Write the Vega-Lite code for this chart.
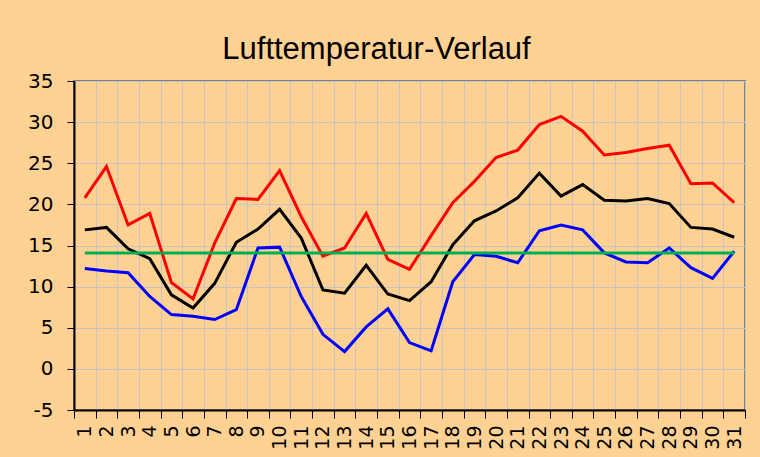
{
  "$schema": "https://vega.github.io/schema/vega-lite/v6.json",
  "autosize": {"type": "none"},
  "width": 671,
  "height": 329,
  "padding": {"left": 74, "top": 81, "right": 15, "bottom": 47},
  "background": "#FFD294",
  "title": {
    "text": "Lufttemperatur-Verlauf",
    "font": "Liberation Sans",
    "fontSize": 31,
    "fontWeight": "normal",
    "color": "#000000",
    "anchor": "middle",
    "dx": -33,
    "dy": 41,
    "baseline": "alphabetic",
    "offset": 22
  },
  "config": {
    "view": {"stroke": "#808080", "strokeWidth": 2, "fill": "#FFD294"},
    "axis": {"labelFont": "DejaVu Sans", "titleFont": "DejaVu Sans"}
  },
  "data": {
    "values": [
      {"day": 1, "series": "Max", "temp": 20.8},
      {"day": 2, "series": "Max", "temp": 24.6},
      {"day": 3, "series": "Max", "temp": 17.5},
      {"day": 4, "series": "Max", "temp": 18.9},
      {"day": 5, "series": "Max", "temp": 10.5},
      {"day": 6, "series": "Max", "temp": 8.5},
      {"day": 7, "series": "Max", "temp": 15.3},
      {"day": 8, "series": "Max", "temp": 20.7},
      {"day": 9, "series": "Max", "temp": 20.6},
      {"day": 10, "series": "Max", "temp": 24.1},
      {"day": 11, "series": "Max", "temp": 18.5},
      {"day": 12, "series": "Max", "temp": 13.7},
      {"day": 13, "series": "Max", "temp": 14.7},
      {"day": 14, "series": "Max", "temp": 18.9},
      {"day": 15, "series": "Max", "temp": 13.3},
      {"day": 16, "series": "Max", "temp": 12.1},
      {"day": 17, "series": "Max", "temp": 16.2},
      {"day": 18, "series": "Max", "temp": 20.2},
      {"day": 19, "series": "Max", "temp": 22.8},
      {"day": 20, "series": "Max", "temp": 25.7},
      {"day": 21, "series": "Max", "temp": 26.6},
      {"day": 22, "series": "Max", "temp": 29.7},
      {"day": 23, "series": "Max", "temp": 30.7},
      {"day": 24, "series": "Max", "temp": 28.9},
      {"day": 25, "series": "Max", "temp": 26.0},
      {"day": 26, "series": "Max", "temp": 26.3},
      {"day": 27, "series": "Max", "temp": 26.8},
      {"day": 28, "series": "Max", "temp": 27.2},
      {"day": 29, "series": "Max", "temp": 22.5},
      {"day": 30, "series": "Max", "temp": 22.6},
      {"day": 31, "series": "Max", "temp": 20.2},
      {"day": 1, "series": "Mittel", "temp": 16.9},
      {"day": 2, "series": "Mittel", "temp": 17.2},
      {"day": 3, "series": "Mittel", "temp": 14.6},
      {"day": 4, "series": "Mittel", "temp": 13.4},
      {"day": 5, "series": "Mittel", "temp": 9.0},
      {"day": 6, "series": "Mittel", "temp": 7.4},
      {"day": 7, "series": "Mittel", "temp": 10.4},
      {"day": 8, "series": "Mittel", "temp": 15.4},
      {"day": 9, "series": "Mittel", "temp": 17.0},
      {"day": 10, "series": "Mittel", "temp": 19.4},
      {"day": 11, "series": "Mittel", "temp": 15.9},
      {"day": 12, "series": "Mittel", "temp": 9.6},
      {"day": 13, "series": "Mittel", "temp": 9.2},
      {"day": 14, "series": "Mittel", "temp": 12.6},
      {"day": 15, "series": "Mittel", "temp": 9.1},
      {"day": 16, "series": "Mittel", "temp": 8.3},
      {"day": 17, "series": "Mittel", "temp": 10.6},
      {"day": 18, "series": "Mittel", "temp": 15.1},
      {"day": 19, "series": "Mittel", "temp": 18.0},
      {"day": 20, "series": "Mittel", "temp": 19.2},
      {"day": 21, "series": "Mittel", "temp": 20.8},
      {"day": 22, "series": "Mittel", "temp": 23.8},
      {"day": 23, "series": "Mittel", "temp": 21.0},
      {"day": 24, "series": "Mittel", "temp": 22.4},
      {"day": 25, "series": "Mittel", "temp": 20.5},
      {"day": 26, "series": "Mittel", "temp": 20.4},
      {"day": 27, "series": "Mittel", "temp": 20.7},
      {"day": 28, "series": "Mittel", "temp": 20.1},
      {"day": 29, "series": "Mittel", "temp": 17.2},
      {"day": 30, "series": "Mittel", "temp": 17.0},
      {"day": 31, "series": "Mittel", "temp": 16.0},
      {"day": 1, "series": "Min", "temp": 12.2},
      {"day": 2, "series": "Min", "temp": 11.9},
      {"day": 3, "series": "Min", "temp": 11.7},
      {"day": 4, "series": "Min", "temp": 8.8},
      {"day": 5, "series": "Min", "temp": 6.6},
      {"day": 6, "series": "Min", "temp": 6.4},
      {"day": 7, "series": "Min", "temp": 6.0},
      {"day": 8, "series": "Min", "temp": 7.2},
      {"day": 9, "series": "Min", "temp": 14.7},
      {"day": 10, "series": "Min", "temp": 14.8},
      {"day": 11, "series": "Min", "temp": 8.8},
      {"day": 12, "series": "Min", "temp": 4.2},
      {"day": 13, "series": "Min", "temp": 2.1},
      {"day": 14, "series": "Min", "temp": 5.1},
      {"day": 15, "series": "Min", "temp": 7.3},
      {"day": 16, "series": "Min", "temp": 3.2},
      {"day": 17, "series": "Min", "temp": 2.2},
      {"day": 18, "series": "Min", "temp": 10.6},
      {"day": 19, "series": "Min", "temp": 13.9},
      {"day": 20, "series": "Min", "temp": 13.7},
      {"day": 21, "series": "Min", "temp": 12.9},
      {"day": 22, "series": "Min", "temp": 16.8},
      {"day": 23, "series": "Min", "temp": 17.5},
      {"day": 24, "series": "Min", "temp": 16.9},
      {"day": 25, "series": "Min", "temp": 14.1},
      {"day": 26, "series": "Min", "temp": 13.0},
      {"day": 27, "series": "Min", "temp": 12.9},
      {"day": 28, "series": "Min", "temp": 14.7},
      {"day": 29, "series": "Min", "temp": 12.3},
      {"day": 30, "series": "Min", "temp": 11.0},
      {"day": 31, "series": "Min", "temp": 14.3},
      {"day": 1, "series": "Monatsmittel", "temp": 14.1},
      {"day": 2, "series": "Monatsmittel", "temp": 14.1},
      {"day": 3, "series": "Monatsmittel", "temp": 14.1},
      {"day": 4, "series": "Monatsmittel", "temp": 14.1},
      {"day": 5, "series": "Monatsmittel", "temp": 14.1},
      {"day": 6, "series": "Monatsmittel", "temp": 14.1},
      {"day": 7, "series": "Monatsmittel", "temp": 14.1},
      {"day": 8, "series": "Monatsmittel", "temp": 14.1},
      {"day": 9, "series": "Monatsmittel", "temp": 14.1},
      {"day": 10, "series": "Monatsmittel", "temp": 14.1},
      {"day": 11, "series": "Monatsmittel", "temp": 14.1},
      {"day": 12, "series": "Monatsmittel", "temp": 14.1},
      {"day": 13, "series": "Monatsmittel", "temp": 14.1},
      {"day": 14, "series": "Monatsmittel", "temp": 14.1},
      {"day": 15, "series": "Monatsmittel", "temp": 14.1},
      {"day": 16, "series": "Monatsmittel", "temp": 14.1},
      {"day": 17, "series": "Monatsmittel", "temp": 14.1},
      {"day": 18, "series": "Monatsmittel", "temp": 14.1},
      {"day": 19, "series": "Monatsmittel", "temp": 14.1},
      {"day": 20, "series": "Monatsmittel", "temp": 14.1},
      {"day": 21, "series": "Monatsmittel", "temp": 14.1},
      {"day": 22, "series": "Monatsmittel", "temp": 14.1},
      {"day": 23, "series": "Monatsmittel", "temp": 14.1},
      {"day": 24, "series": "Monatsmittel", "temp": 14.1},
      {"day": 25, "series": "Monatsmittel", "temp": 14.1},
      {"day": 26, "series": "Monatsmittel", "temp": 14.1},
      {"day": 27, "series": "Monatsmittel", "temp": 14.1},
      {"day": 28, "series": "Monatsmittel", "temp": 14.1},
      {"day": 29, "series": "Monatsmittel", "temp": 14.1},
      {"day": 30, "series": "Monatsmittel", "temp": 14.1},
      {"day": 31, "series": "Monatsmittel", "temp": 14.1}
    ]
  },
  "mark": {"type": "line", "strokeWidth": 3, "strokeJoin": "miter", "clip": false},
  "encoding": {
    "x": {
      "field": "day",
      "type": "ordinal",
      "bandPosition": 0.5,
      "scale": {"type": "band", "paddingInner": 0, "paddingOuter": 0},
      "axis": {
        "title": null,
        "tickBand": "extent",
        "labelAngle": -90,
        "labelFontSize": 19,
        "labelColor": "#000000",
        "labelPadding": 7,
        "tickColor": "#000000",
        "tickSize": 8,
        "tickWidth": 1,
        "domainColor": "#000000",
        "domainWidth": 2,
        "grid": true,
        "gridColor": "#C4C4C4",
        "gridWidth": 1,
        "labelOverlap": false
      }
    },
    "y": {
      "field": "temp",
      "type": "quantitative",
      "scale": {"domain": [-5, 35], "nice": false, "zero": false},
      "axis": {
        "title": null,
        "values": [-5, 0, 5, 10, 15, 20, 25, 30, 35],
        "labelExpr": "datum.value < 0 ? '-' + abs(datum.value) : datum.label",
        "labelFontSize": 20,
        "labelColor": "#000000",
        "labelPadding": 14,
        "tickColor": "#000000",
        "tickSize": 7,
        "tickWidth": 1,
        "domainColor": "#000000",
        "domainWidth": 2,
        "grid": true,
        "gridColor": "#C4C4C4",
        "gridWidth": 1
      }
    },
    "color": {
      "field": "series",
      "type": "nominal",
      "legend": null,
      "scale": {
        "domain": ["Max", "Mittel", "Min", "Monatsmittel"],
        "range": ["#FF0000", "#000000", "#0000FF", "#00B050"]
      }
    },
    "order": {"field": "day", "type": "quantitative"}
  }
}
